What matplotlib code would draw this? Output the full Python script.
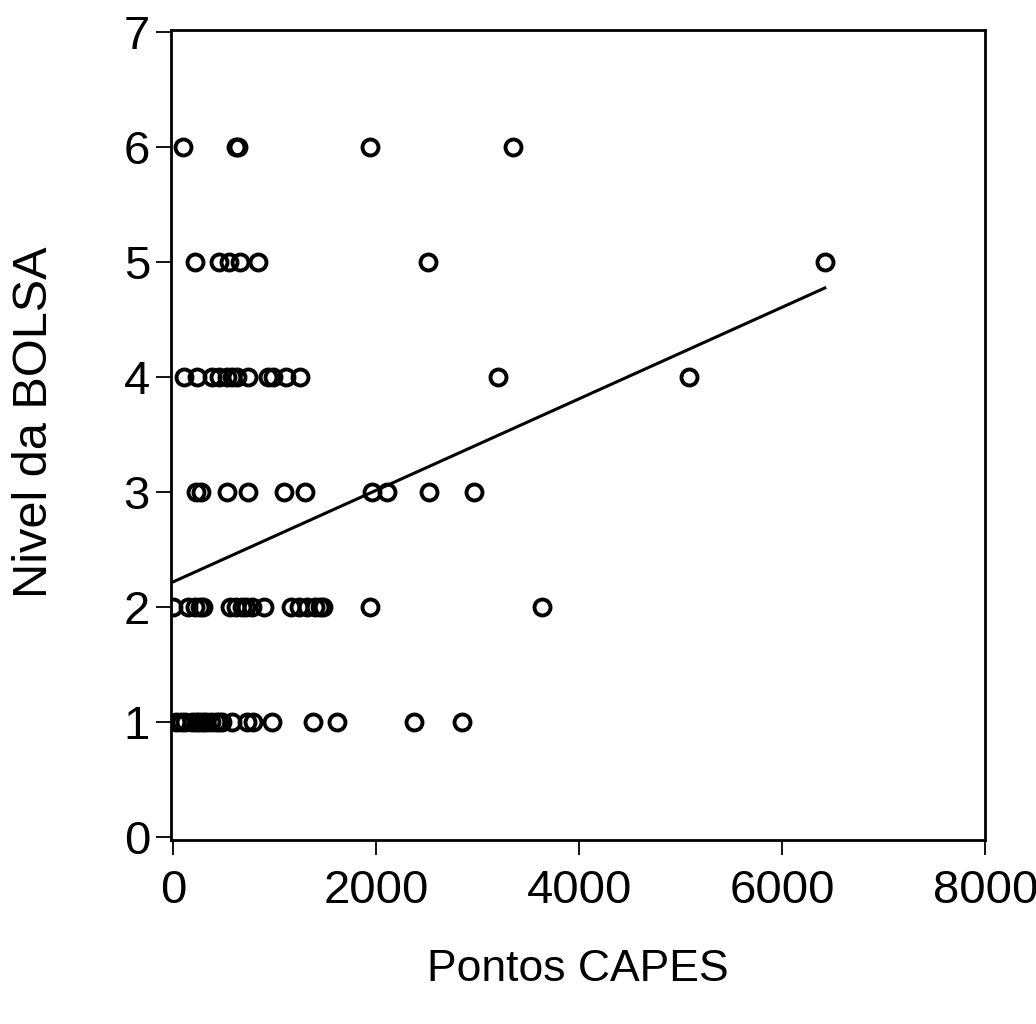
import numpy as np
import matplotlib.pyplot as plt

plt.rcParams['font.family'] = ['Liberation Sans', 'DejaVu Sans']

# pontos (Pontos CAPES por nível da bolsa)
pontos_n1 = [30, 80, 120, 190, 230, 260, 300, 330, 370, 420, 450, 480, 580, 730, 790, 980, 1380, 1620, 2370, 2850]
pontos_n2 = [0, 150, 220, 270, 300, 560, 620, 680, 720, 780, 900, 1160, 1240, 1320, 1400, 1450, 1480, 1940, 3630]
pontos_n3 = [230, 280, 530, 740, 1090, 1300, 1960, 2110, 2520, 2960]
pontos_n4 = [110, 240, 380, 450, 530, 580, 630, 740, 940, 990, 1110, 1250, 3200, 5080]
pontos_n5 = [220, 450, 550, 660, 840, 2510, 6420]
pontos_n6 = [100, 620, 640, 1940, 3350]

niveis = [1, 2, 3, 4, 5, 6]
grupos = [pontos_n1, pontos_n2, pontos_n3, pontos_n4, pontos_n5, pontos_n6]

# coeficientes da reta ajustada
intercepto = 2.22
inclinacao = 0.000398

x = np.concatenate([np.array(g, dtype=float) for g in grupos])
y = np.concatenate([np.full(len(g), n, dtype=float) for g, n in zip(grupos, niveis)])

fig = plt.figure(figsize=(10.36, 10.24), dpi=100)
ax = fig.add_axes([0.165, 0.18, 0.786, 0.791])

ax.plot(x, y, 'o', mfc='none', mec='black', ms=11.5, mew=2.8)

xr = np.array([x.min(), x.max()])
ax.plot(xr, intercepto + inclinacao * xr, color='black', lw=2.2)

ax.set_xlim(-20, 8000)
ax.set_ylim(-0.02, 7.02)
ax.set_xticks([0, 2000, 4000, 6000, 8000])
ax.set_yticks(range(8))

for s in ax.spines.values():
    s.set_linewidth(2)
ax.tick_params(direction='out', length=11, width=1.3, labelsize=34)
ax.tick_params(axis='x', pad=10)
ax.tick_params(axis='y', pad=4)

ax.set_xlabel('Pontos CAPES', fontsize=32, va='center')
ax.xaxis.set_label_coords(0.5, -0.16)
ax.set_ylabel('Nivel da BOLSA', fontsize=35, va='center')
ax.yaxis.set_label_coords(-0.167, 0.515)

plt.savefig('out.png')
